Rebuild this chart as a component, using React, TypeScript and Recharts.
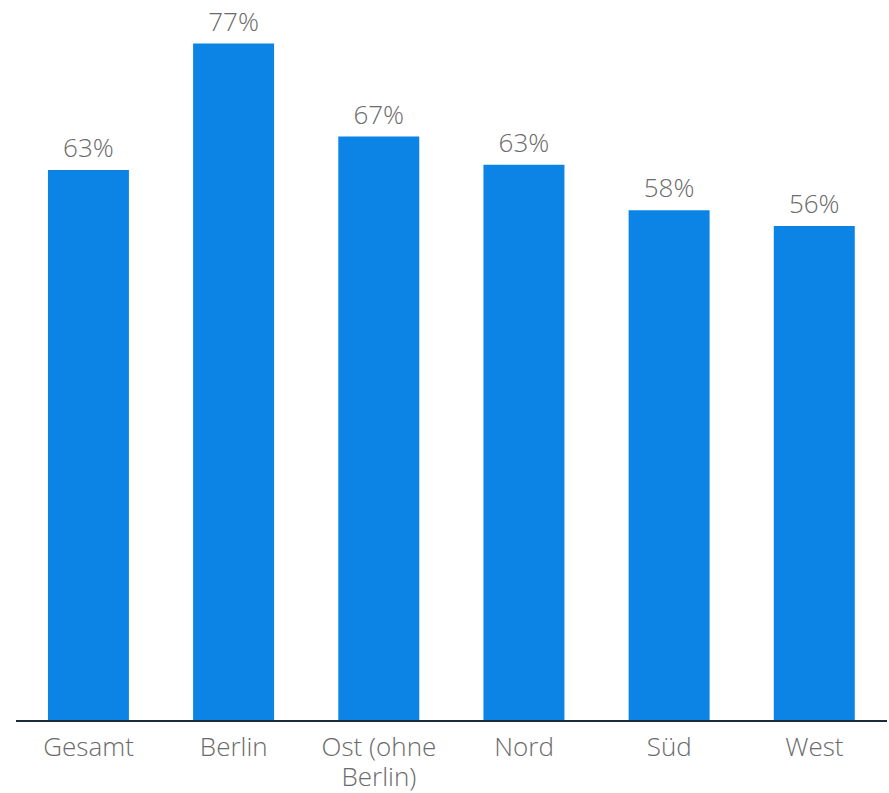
import React from 'react';
import { BarChart, Bar, XAxis, YAxis, LabelList } from 'recharts';

const regions = ['Gesamt', 'Berlin', 'Ost (ohne Berlin)', 'Nord', 'Süd', 'West'];
const shares = [62.8, 77.2, 66.6, 63.4, 58.2, 56.4];

const data = regions.map((name, i) => ({ name, value: shares[i] }));

const FONT = '"Open Sans", sans-serif';

const RegionTick = (props: any) => {
  const { x, y, payload } = props;
  const words: string[] = String(payload.value).split(' ');
  const lines: string[] = [];
  // wrap long labels into two lines
  if (words.length > 2) {
    lines.push(words.slice(0, 2).join(' '));
    lines.push(words.slice(2).join(' '));
  } else {
    lines.push(payload.value);
  }
  return (
    <text x={x} y={y} textAnchor="middle" fill="#6b6b6b" fontSize={26} fontFamily={FONT} fontWeight={300}>
      {lines.map((l, i) => (
        <tspan key={i} x={x} dy={i === 0 ? 35 : 30}>
          {l}
        </tspan>
      ))}
    </text>
  );
};

export default function App() {
  return (
    <div style={{ position: 'absolute', left: 0, top: 0 }}>
      <BarChart
        width={889}
        height={793}
        data={data}
        margin={{ top: 19, right: 2, bottom: 0, left: 16 }}
        barCategoryGap="22%"
      >
        <XAxis
          dataKey="name"
          height={72}
          tickLine={false}
          tickSize={0}
          tickMargin={0}
          interval={0}
          axisLine={{ stroke: '#1b2b3c', strokeWidth: 2 }}
          tick={<RegionTick />}
        />
        <YAxis hide domain={[0, 80]} />
        <Bar dataKey="value" fill="#0b84e5" isAnimationActive={false}>
          <LabelList
            dataKey="value"
            position="top"
            offset={13}
            fill="#6b6b6b"
            fontSize={26}
            fontFamily={FONT}
            fontWeight={300}
            formatter={(v: any) => `${Math.round(Number(v))}%`}
          />
        </Bar>
      </BarChart>
    </div>
  );
}
